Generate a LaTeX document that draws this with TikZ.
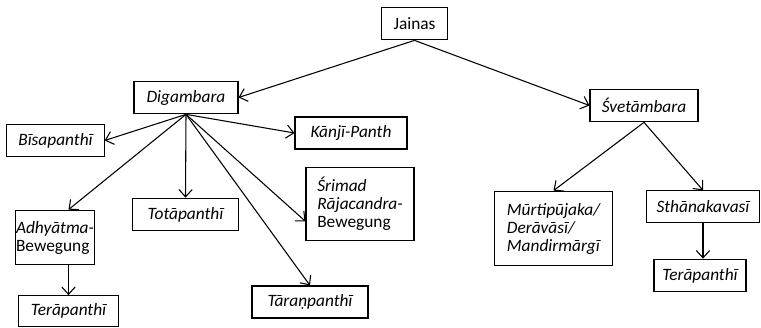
\documentclass[tikz,border=0pt]{standalone}
\usepackage{fontspec}
\setmainfont{Carlito}
\usetikzlibrary{arrows.meta,calc,positioning}
\tikzset{
sect/.style={draw, line width=0.8pt, inner sep=2pt, font=\fontsize{13}{13.5}\selectfont\itshape, minimum height=24.5pt}, % boxes of the tree
link/.style={-{Straight Barb[length=5.5pt,width=10pt]}, line width=0.8pt}, % open arrow heads
}

\begin{document}
\begin{tikzpicture}[x=0.75pt,y=0.75pt,yscale=-1,xscale=1]
\useasboundingbox (0,0) rectangle (761,328);
%Top
\node [sect, font=\fontsize{13}{13.5}\selectfont, minimum width=49pt] (jainas) at (414.5,23.5) {Jainas};
\node [sect, minimum width=78pt] (dig) at (186,97.5) {Digambara};
\node [sect, minimum width=81pt] (svet) at (644,105.5) {Śvetāmbara};
%Digambara side
\node [sect, minimum width=73pt] (bisa) at (55.5,140.5) {Bīsapanthī};
\node [sect, minimum width=84pt, minimum height=24pt] (kanji) at (351,133) {Kānjī-Panth};
\node [sect, inner xsep=0.5pt, minimum width=56pt, minimum height=41pt, align=left] (adh) at (55,237.5) {Adhyātma-\\\upshape Bewegung};
\node [sect, minimum width=75pt, minimum height=23pt] (ter1) at (68.5,311) {Terāpanthī};
\node [sect, minimum width=79pt] (tota) at (185.5,214.5) {Totāpanthī};
\node [sect, minimum width=81pt, minimum height=55pt, align=left] (srimad) at (360,204) {Śrimad\\Rājacandra-\\\upshape Bewegung};
\node [sect, minimum width=87pt, minimum height=24pt] (taran) at (310,302) {Tāraṇpanthī};
%Svetambara side
\node [sect, minimum width=88pt, minimum height=56pt, align=left] (murti) at (553.5,228.5) {Mūrtipūjaka/\\Derāvāsī/\\Mandirmārgī};
\node [sect, minimum width=85pt, minimum height=23.5pt] (sthan) at (703,206.5) {Sthānakavasī};
\node [sect, minimum width=69pt] (ter2) at (700,275.5) {Terāpanthī};
%Arrows
\draw [link] (jainas.south) -- (dig.east);
\draw [link] (jainas.south) -- (svet.west);
\draw [link] (dig.south) -- (bisa.east);
\draw [link] (dig.south) -- (kanji.west);
\draw [link] (dig.south) -- (adh.north -| ter1.north);
\draw [link] (dig.south) -- (tota.north);
\draw [link] (dig.south) -- ([yshift=13pt]srimad.west);
\draw [link] (dig.south) -- (taran.north);
\draw [link] (adh.south -| ter1.north) -- (ter1.north);
\draw [link] (svet.south) -- (murti.north);
\draw [link] (svet.south) -- (sthan.north);
\draw [link] (sthan.south) -- (sthan.south |- ter2.north);
\end{tikzpicture}
\end{document}
